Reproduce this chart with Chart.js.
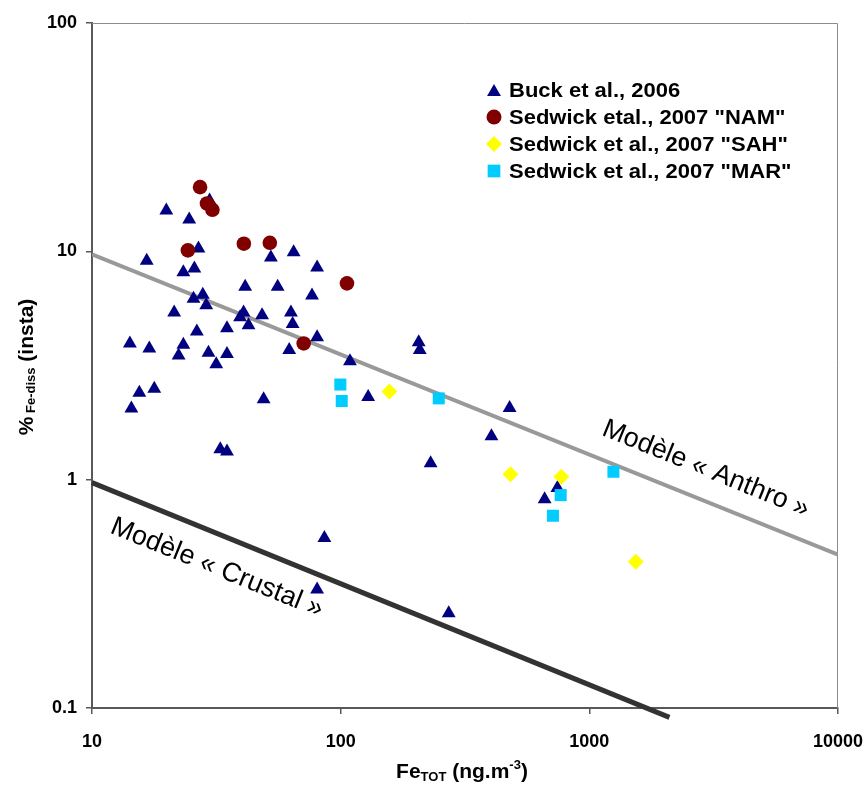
<!DOCTYPE html>
<html>
<head>
<meta charset="utf-8">
<script src="https://cdn.jsdelivr.net/npm/chart.js@4.4.1/dist/chart.umd.min.js"></script>
<style>
  html, body { margin: 0; padding: 0; background: #fff; }
</style>
</head>
<body>
<canvas id="myChart" width="864" height="787"></canvas>
<script>
// Buck et al., 2006
var buckFe  = [19.9, 24.6, 16.6, 26.8, 23.3, 25.8, 52.4, 64.7, 41.3, 55.8, 25.6, 27.9, 28.8, 21.4, 39.4, 40.7, 42.6, 48.3,
               63.1, 64.1, 26.4, 34.9, 14.2, 17.0, 23.3, 22.3, 29.4, 34.9, 31.6, 62.1, 15.5, 17.8, 14.4, 49.0, 32.8, 34.9,
               29.7, 80.4, 76.7, 80.4, 109, 206, 208, 129, 478, 404, 230, 661, 744, 86, 80.4, 272];
var buckPct = [15.1, 13.8, 9.1, 10.3, 8.1, 8.4, 9.4, 9.9, 7.0, 7.0, 6.2, 6.45, 5.8, 5.4, 5.15, 5.4, 4.75, 5.25,
               5.4, 4.8, 4.45, 4.6, 3.95, 3.75, 3.9, 3.5, 3.6, 3.55, 3.2, 3.7, 2.4, 2.5, 2.05, 2.25, 1.36, 1.33,
               16.7, 8.5, 6.4, 4.2, 3.3, 4.0, 3.7, 2.3, 2.06, 1.55, 1.18, 0.82, 0.92, 0.555, 0.33, 0.26];
// Sedwick etal., 2007 "NAM"
var namFe  = [27.2, 29.0, 30.5, 24.3, 40.8, 51.9, 106, 71];
var namPct = [19.1, 16.2, 15.2, 10.1, 10.8, 10.9, 7.24, 3.95];
// Sedwick et al., 2007 "SAH"
var sahFe  = [157, 482, 772, 1538];
var sahPct = [2.43, 1.055, 1.03, 0.437];
// Sedwick et al., 2007 "MAR"
var marFe  = [99.7, 101, 248, 767, 714, 1250];
var marPct = [2.61, 2.21, 2.27, 0.856, 0.695, 1.083];
// model lines
var anthroFe  = [10, 10000];
var anthroPct = [9.7, 0.47];
var crustalFe  = [10, 2100];
var crustalPct = [0.97, 0.091];

var xTicks = [10, 100, 1000, 10000];
var yTicks = [0.1, 1, 10, 100];

var legendLabels = ['Buck et al., 2006', 'Sedwick etal., 2007 "NAM"', 'Sedwick et al., 2007 "SAH"', 'Sedwick et al., 2007 "MAR"'];

function pts(xs, ys) {
	return xs.map(function (x, i) { return { x: x, y: ys[i] }; });
}

var FONT = '"Liberation Sans", Arial, sans-serif';

function marker(ctx, style, x, y, r, color) {
	ctx.save();
	ctx.fillStyle = color;
	ctx.beginPath();
	if (style === 'triangle') {
		ctx.moveTo(x, y - r);
		ctx.lineTo(x + r * 0.866, y + r / 2);
		ctx.lineTo(x - r * 0.866, y + r / 2);
		ctx.closePath();
	} else if (style === 'circle') {
		ctx.arc(x, y, r, 0, Math.PI * 2);
	} else if (style === 'rectRot') {
		ctx.moveTo(x - r, y); ctx.lineTo(x, y - r); ctx.lineTo(x + r, y); ctx.lineTo(x, y + r);
		ctx.closePath();
	} else {
		var h = r * Math.SQRT1_2;
		ctx.rect(x - h, y - h, 2 * h, 2 * h);
	}
	ctx.fill();
	ctx.restore();
}

function rotatedText(ctx, text, cx, cy, deg, size) {
	ctx.save();
	ctx.translate(cx, cy);
	ctx.rotate(deg * Math.PI / 180);
	ctx.font = size + 'px ' + FONT;
	ctx.fillStyle = '#000';
	ctx.textAlign = 'center';
	ctx.textBaseline = 'alphabetic';
	ctx.fillText(text, 0, 0);
	ctx.restore();
}

// draws a list of [text, size, baselineShift] pieces, centred on (0,0)
function pieces(ctx, parts) {
	var total = 0;
	parts.forEach(function (p) {
		ctx.font = 'bold ' + p[1] + 'px ' + FONT;
		p.w = ctx.measureText(p[0]).width;
		total += p.w;
	});
	var x = -total / 2;
	parts.forEach(function (p) {
		ctx.font = 'bold ' + p[1] + 'px ' + FONT;
		ctx.fillText(p[0], x, p[2]);
		x += p.w;
	});
}

var decor = {
	id: 'decor',
	beforeDatasetsDraw: function (chart) {
		var a = chart.chartArea, ctx = chart.ctx;
		ctx.save();
		ctx.strokeStyle = '#8c8c8c';
		ctx.lineWidth = 1;
		ctx.beginPath();
		ctx.moveTo(a.left, a.top + 0.5);
		ctx.lineTo(a.right - 0.5, a.top + 0.5);
		ctx.lineTo(a.right - 0.5, a.bottom);
		ctx.stroke();
		ctx.restore();
	},
	afterDraw: function (chart) {
		var ctx = chart.ctx;

		rotatedText(ctx, 'Mod\u00e8le \u00ab Anthro \u00bb', 703, 476, 22, 27);
		rotatedText(ctx, 'Mod\u00e8le \u00ab Crustal \u00bb', 214, 575, 22, 27);

		// legend
		var styles = [['triangle', '#000080', 8], ['circle', '#800000', 7.5], ['rectRot', '#FFFF00', 8], ['rect', '#00CCFF', 9]];
		for (var i = 0; i < legendLabels.length; i++) {
			var y = 90 + i * 27;
			marker(ctx, styles[i][0], 494, y + (i === 0 ? 2 : 0), styles[i][2], styles[i][1]);
			ctx.save();
			ctx.translate(509, y + 7.2);
			ctx.scale(1.1, 1);
			ctx.font = 'bold 20px ' + FONT;
			ctx.fillStyle = '#000';
			ctx.textAlign = 'left';
			ctx.textBaseline = 'alphabetic';
			ctx.fillText(legendLabels[i], 0, 0);
			ctx.restore();
		}

		// axis titles
		ctx.save();
		ctx.fillStyle = '#000';
		ctx.textAlign = 'left';
		ctx.textBaseline = 'alphabetic';
		ctx.translate(462, 778);
		pieces(ctx, [['Fe', 21, 0], ['TOT', 13, 3], [' (ng.m', 21, 0], ['-3', 13, -9], [')', 21, 0]]);
		ctx.restore();

		ctx.save();
		ctx.fillStyle = '#000';
		ctx.textAlign = 'left';
		ctx.textBaseline = 'alphabetic';
		ctx.translate(33, 367);
		ctx.rotate(-Math.PI / 2);
		pieces(ctx, [['%', 21, 0], [' Fe-diss', 13, 2], [' (insta)', 21, 0]]);
		ctx.restore();
	}
};

var ctx = document.getElementById('myChart');

new Chart(ctx, {
	type: 'scatter',
	data: {
		datasets: [
			{ label: legendLabels[3], data: pts(marFe, marPct), pointStyle: 'rect', pointRadius: 8.5,
			  backgroundColor: '#00CCFF', borderColor: '#00CCFF', borderWidth: 0 },
			{ label: legendLabels[2], data: pts(sahFe, sahPct), pointStyle: 'rectRot', pointRadius: 8,
			  backgroundColor: '#FFFF00', borderColor: '#FFFF00', borderWidth: 0 },
			{ label: legendLabels[1], data: pts(namFe, namPct), pointStyle: 'circle', pointRadius: 7.3,
			  backgroundColor: '#800000', borderColor: '#800000', borderWidth: 0 },
			{ label: legendLabels[0], data: pts(buckFe, buckPct), pointStyle: 'triangle', pointRadius: 8,
			  backgroundColor: '#000080', borderColor: '#000080', borderWidth: 0 },
			{ label: 'Anthro', type: 'line', data: pts(anthroFe, anthroPct), showLine: true, pointRadius: 0,
			  borderColor: '#999999', borderWidth: 4, fill: false },
			{ label: 'Crustal', type: 'line', data: pts(crustalFe, crustalPct), showLine: true, pointRadius: 0,
			  borderColor: '#333333', borderWidth: 5, fill: false, clip: false }
		]
	},
	options: {
		responsive: false,
		animation: false,
		events: [],
		layout: { padding: { left: 0, right: 26, top: 23, bottom: 0 } },
		plugins: {
			legend: { display: false },
			tooltip: { enabled: false }
		},
		scales: {
			x: {
				type: 'logarithmic',
				min: 10,
				max: 10000,
				afterBuildTicks: function (scale) {
					scale.ticks = xTicks.map(function (v) { return { value: v }; });
				},
				afterFit: function (scale) {
					scale.height = 79;
					scale.paddingLeft = 0;
					scale.paddingRight = 0;
				},
				ticks: {
					callback: function (v) { return String(v); },
					font: { family: FONT, size: 18, weight: 'bold' },
					color: '#000',
					padding: 17,
					maxRotation: 0,
					autoSkip: false
				},
				grid: { drawOnChartArea: false, tickLength: 6, color: '#595959', lineWidth: 1.5 },
				border: { color: '#595959', width: 2 }
			},
			y: {
				type: 'logarithmic',
				min: 0.1,
				max: 100,
				afterBuildTicks: function (scale) {
					scale.ticks = yTicks.map(function (v) { return { value: v }; });
				},
				afterFit: function (scale) {
					scale.width = 92;
					scale.paddingTop = 0;
					scale.paddingBottom = 0;
				},
				ticks: {
					callback: function (v) { return String(v); },
					font: { family: FONT, size: 18, weight: 'bold' },
					color: '#000',
					padding: 9,
					autoSkip: false
				},
				grid: { drawOnChartArea: false, tickLength: 6, color: '#595959', lineWidth: 1.5 },
				border: { color: '#595959', width: 2 }
			}
		}
	},
	plugins: [decor]
});
</script>
</body>
</html>
